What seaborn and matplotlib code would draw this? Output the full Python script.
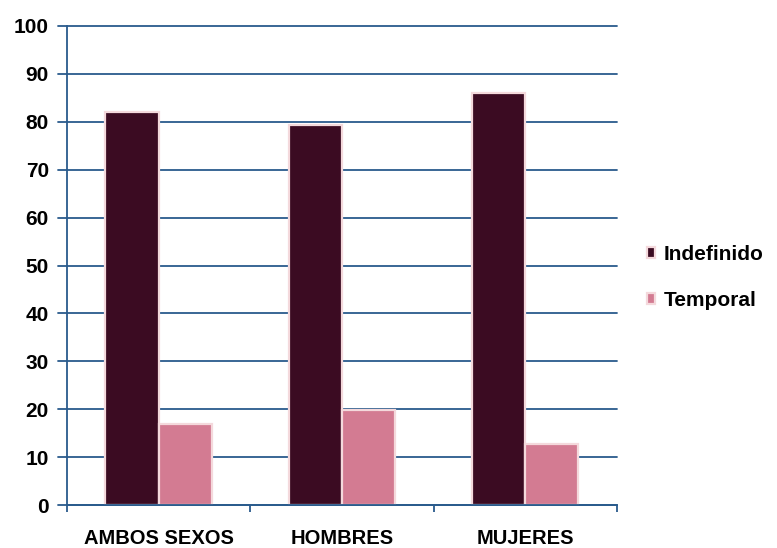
import seaborn as sns
import matplotlib.pyplot as plt
import pandas as pd

categorias = ["AMBOS SEXOS", "HOMBRES", "MUJERES"]
indefinido = [82, 79.3, 86]
temporal = [16.9, 19.8, 12.7]
series = ["Indefinido", "Temporal"]
colores = ["#3b0b22", "#d37b92"]
yticks = list(range(0, 101, 10))

df = pd.DataFrame({
    "grupo": categorias * 2,
    "tipo": [series[0]] * 3 + [series[1]] * 3,
    "valor": indefinido + temporal,
})

sns.set_style("white")
plt.rcParams["font.family"] = ["Liberation Sans", "DejaVu Sans"]
plt.rcParams["text.color"] = "black"
plt.rcParams["xtick.color"] = "black"
plt.rcParams["ytick.color"] = "black"

fig = plt.figure(figsize=(7.77, 5.48), dpi=100)
ax = fig.add_axes([0.086, 0.078, 0.708, 0.875])
azul = "#2a5b8c"

# lineas de cuadricula que tambien hacen de marcas del eje y
for y in yticks:
    ax.axhline(y, xmin=-0.016, xmax=1, color=azul, lw=1.3, zorder=0,
               clip_on=False)

sns.barplot(data=df, x="grupo", y="valor", hue="tipo", palette=colores,
            width=0.58, edgecolor="#f4d9dc", linewidth=1.6, saturation=1,
            ax=ax)

ax.set_ylim(0, 100)
ax.set_xlim(-0.5, 2.5)
ax.set_yticks(yticks)
ax.set_yticklabels([str(v) for v in yticks], fontsize=15, fontweight="bold")
ax.set_xticks(range(3))
ax.set_xticklabels(categorias, fontsize=14.5, fontweight="bold")
ax.set_xticks([-0.5, 0.5, 1.5, 2.5], minor=True)
ax.tick_params(axis="x", which="major", length=0, pad=17)
ax.tick_params(axis="x", which="minor", bottom=True, length=5,
               color=azul, width=1.3)
ax.tick_params(axis="y", length=0, pad=13, labelcolor="black")
ax.set_xlabel("")
ax.set_ylabel("")

for s in ["top", "right"]:
    ax.spines[s].set_visible(False)
for s in ["left", "bottom"]:
    ax.spines[s].set_color(azul)
    ax.spines[s].set_linewidth(1.3)

handles, labels = ax.get_legend_handles_labels()
leg = ax.legend(handles, labels, loc="center left",
                bbox_to_anchor=(1.02, 0.475), frameon=False,
                prop={"size": 15, "weight": "bold"}, handlelength=0.4,
                handleheight=0.4, handletextpad=0.4, labelspacing=1.3)

fig.savefig("out.png", dpi=100)
